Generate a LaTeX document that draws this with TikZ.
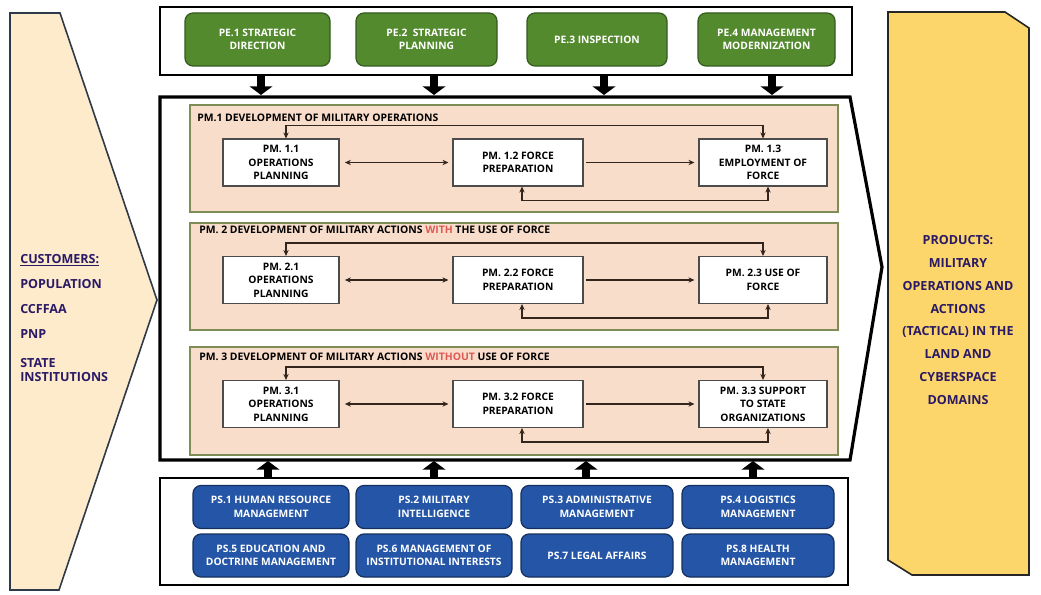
\documentclass[tikz,border=0pt]{standalone}
\usepackage{fontspec}
\setmainfont{Open Sans}
\usetikzlibrary{arrows.meta,calc}
\definecolor{pegreen}{HTML}{548A2E}
\definecolor{pegreenD}{HTML}{355A1E}
\definecolor{psblue}{HTML}{2455A6}
\definecolor{psblueD}{HTML}{16305F}
\definecolor{salmon}{HTML}{F9DDCB}
\definecolor{panelline}{HTML}{7D8D55}
\definecolor{arrc}{HTML}{33241C}
\definecolor{custfill}{HTML}{FDEBCB}
\definecolor{prodfill}{HTML}{FCD66B}
\definecolor{shapeline}{HTML}{2E3A4A}
\definecolor{indigo}{HTML}{2A1A66}
\definecolor{redw}{HTML}{E05A55}
\newcommand{\smallbf}{\fontsize{7.7}{10.2}\selectfont\bfseries}
\newcommand{\titlebf}{\fontsize{7.8}{10}\selectfont\bfseries}
\newcommand{\bigbf}{\fontsize{9.4}{17.2}\selectfont\bfseries}
\begin{document}
\begin{tikzpicture}[x=0.75pt,y=-0.75pt,
  pebox/.style={draw=pegreenD, fill=pegreen, rounded corners=6pt, line width=0.9pt, text=white, font=\smallbf, align=center, inner sep=0pt, minimum height=53*0.75pt},
  psbox/.style={draw=psblueD, fill=psblue, rounded corners=6pt, line width=0.9pt, text=white, font=\smallbf, align=center, inner sep=0pt, minimum height=43*0.75pt},
  pmbox/.style={draw=black!70, fill=white, line width=0.8pt, font=\smallbf, align=center, inner sep=0pt, minimum height=47*0.75pt},
  panel/.style={draw=panelline, fill=salmon, line width=1.2pt},
  fb/.style={draw=arrc, line width=1.1pt, {Stealth[length=4.5pt,width=4pt]}-{Stealth[length=4.5pt,width=4pt]}},
  fw/.style={draw=arrc, line width=1.1pt, -{Stealth[length=4.5pt,width=4pt]}},
  bigarrow/.style={draw=black, line width=6.5pt, -{Triangle[length=6.5pt,width=17pt]}},
  ttl/.style={anchor=west, font=\titlebf, inner sep=0pt},
  cust/.style={anchor=west, font=\bigbf, text=indigo, inner sep=0pt}
]
\useasboundingbox (0,0) rectangle (1041,595);

% customers shape
\draw[fill=custfill, draw=shapeline, line width=1.2pt] (10,13) -- (60,13) -- (157,300) -- (59,590) -- (10,590) -- cycle;
\node[cust] (c0) at (20,260) {\underline{CUSTOMERS:}};
\node[cust] (c1) at (20,284) {POPULATION};
\node[cust] (c2) at (20,309) {CCFFAA};
\node[cust] (c3) at (20,334) {PNP};
\node[cust] (c4) at (20,363) {STATE};
\node[cust] (c5) at (20,377) {INSTITUTIONS};

% products shape
\draw[fill=prodfill, draw=black!85, line width=1.2pt] (888,12) -- (1005,12) -- (1029,28) -- (1029,575) -- (912,575) -- (888,560) -- cycle;
\node[font=\bigbf, text=indigo, align=center, inner sep=0pt] (prod) at (958,320)
  {PRODUCTS:\\MILITARY\\OPERATIONS AND\\ACTIONS\\(TACTICAL) IN THE\\LAND AND\\CYBERSPACE\\DOMAINS};

% strategic container
\draw[line width=1.6pt, fill=white] (160,7) rectangle (852,75);
\node[pebox, minimum width=145*0.75pt] (pe1) at (257.5,39.5) {PE.1 STRATEGIC\\DIRECTION};
\node[pebox, minimum width=141*0.75pt] (pe2) at (426.5,39.5) {PE.2~~STRATEGIC\\PLANNING};
\node[pebox, minimum width=140*0.75pt] (pe3) at (597,39.5) {PE.3 INSPECTION};
\node[pebox, minimum width=137*0.75pt] (pe4) at (766.5,39.5) {PE.4 MANAGEMENT\\MODERNIZATION};

% main process pentagon
\draw[line width=2.4pt, fill=white] (160,97) -- (850,97) -- (882,267) -- (850,460) -- (160,460) -- cycle;

% down arrows
\foreach \x/\n in {261/1,434/2,604/3,772/4}{
  \coordinate (da\n) at (\x,75);
  \coordinate (db\n) at (\x,95);
  \draw[bigarrow] (da\n) -- (db\n);
}

% panels
\draw[panel] (190,105) rectangle (838,212);
\draw[panel] (190,223) rectangle (838,330);
\draw[panel] (190,347) rectangle (838,455);

\node[ttl] (t1) at (197,118) {PM.1 DEVELOPMENT OF MILITARY OPERATIONS};
\node[ttl] (t2) at (199,230) {PM. 2 DEVELOPMENT OF MILITARY ACTIONS \textcolor{redw}{WITH} THE USE OF FORCE};
\node[ttl] (t3) at (199,357) {PM. 3 DEVELOPMENT OF MILITARY ACTIONS \textcolor{redw}{WITHOUT} USE OF FORCE};

% row 1
\node[pmbox, minimum width=116*0.75pt] (b11) at (281,162.5) {PM. 1.1\\OPERATIONS\\PLANNING};
\node[pmbox, minimum width=130*0.75pt] (b12) at (518,162.5) {PM. 1.2 FORCE\\PREPARATION};
\node[pmbox, minimum width=128*0.75pt] (b13) at (763,162.5) {PM. 1.3\\EMPLOYMENT OF\\FORCE};
% row 2
\node[pmbox, minimum width=116*0.75pt] (b21) at (281,280) {PM. 2.1\\OPERATIONS\\PLANNING};
\node[pmbox, minimum width=130*0.75pt] (b22) at (518,280) {PM. 2.2 FORCE\\PREPARATION};
\node[pmbox, minimum width=128*0.75pt] (b23) at (763,280) {PM. 2.3 USE OF\\FORCE};
% row 3
\node[pmbox, minimum width=116*0.75pt] (b31) at (281,404) {PM. 3.1\\OPERATIONS\\PLANNING};
\node[pmbox, minimum width=130*0.75pt] (b32) at (518,404) {PM. 3.2 FORCE\\PREPARATION};
\node[pmbox, minimum width=128*0.75pt] (b33) at (763,404) {PM. 3.3 SUPPORT\\TO STATE\\ORGANIZATIONS};

\foreach \r in {1,2,3}{
  \draw[fb, shorten <=4pt, shorten >=3pt] (b\r1.east) -- (b\r2.west);
  \draw[fw, shorten <=2pt, shorten >=3pt] (b\r2.east) -- (b\r3.west);
  \draw[fb] ([xshift=5*0.75pt]b\r1.north) -- ++(0,-13) -| (b\r3.north);
  \draw[fb] ([xshift=4*0.75pt]b\r2.south) -- ++(0,14) -| ([xshift=5*0.75pt]b\r3.south);
}

% support container
\draw[line width=1.6pt, fill=white] (160,478) rectangle (848,585);
\node[psbox, minimum width=156*0.75pt] (ps1) at (271,507) {PS.1 HUMAN RESOURCE\\MANAGEMENT};
\node[psbox, minimum width=156*0.75pt] (ps2) at (434,507) {PS.2 MILITARY\\INTELLIGENCE};
\node[psbox, minimum width=152*0.75pt] (ps3) at (597,507) {PS.3 ADMINISTRATIVE\\MANAGEMENT};
\node[psbox, minimum width=152*0.75pt] (ps4) at (758,507) {PS.4 LOGISTICS\\MANAGEMENT};
\node[psbox, minimum width=156*0.75pt] (ps5) at (271,555.5) {PS.5 EDUCATION AND\\DOCTRINE MANAGEMENT};
\node[psbox, minimum width=156*0.75pt] (ps6) at (434,555.5) {PS.6 MANAGEMENT OF\\INSTITUTIONAL INTERESTS};
\node[psbox, minimum width=152*0.75pt] (ps7) at (597,555.5) {PS.7 LEGAL AFFAIRS};
\node[psbox, minimum width=152*0.75pt] (ps8) at (758,555.5) {PS.8 HEALTH\\MANAGEMENT};

% up arrows
\foreach \x/\n in {268/1,434/2,586/3,753/4}{
  \coordinate (ua\n) at (\x,478);
  \coordinate (ub\n) at (\x,461);
  \draw[bigarrow] (ua\n) -- (ub\n);
}
\end{tikzpicture}
\end{document}
